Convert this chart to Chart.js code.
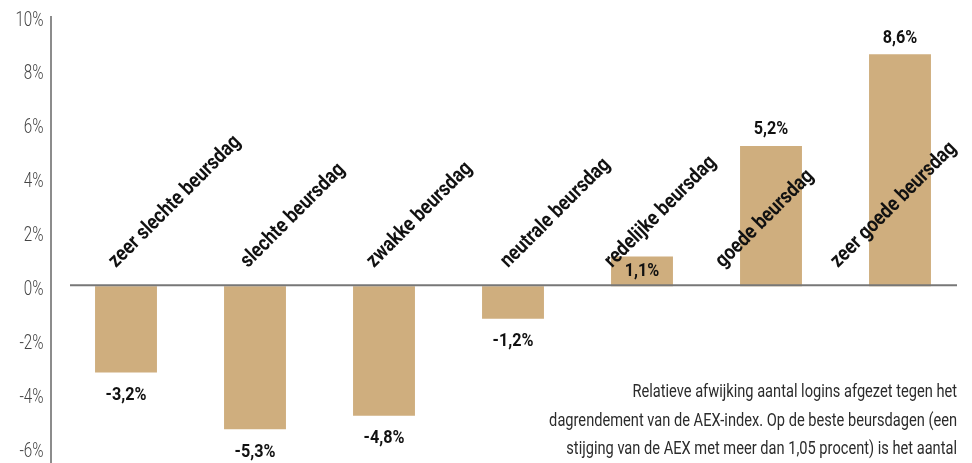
<!DOCTYPE html>
<html>
<head>
<meta charset="utf-8">
<script src="https://cdn.jsdelivr.net/npm/chart.js@4.4.1/dist/chart.umd.min.js"></script>
<style>
  html, body { margin: 0; padding: 0; background: #ffffff; }
  #wrap { position: relative; width: 972px; height: 463px; }
</style>
</head>
<body>
<div id="wrap"><canvas id="c" width="972" height="463"></canvas></div>
<script>
// ---- data ----
const categories = [
  'zeer slechte beursdag',
  'slechte beursdag',
  'zwakke beursdag',
  'neutrale beursdag',
  'redelijke beursdag',
  'goede beursdag',
  'zeer goede beursdag'
];
const values = [-3.2, -5.3, -4.8, -1.2, 1.1, 5.2, 8.6];
const yTicks = [-6, -4, -2, 0, 2, 4, 6, 8, 10];
const noteLines = [
  'Relatieve afwijking aantal logins afgezet tegen het',
  'dagrendement van de AEX-index. Op de beste beursdagen (een',
  'stijging van de AEX met meer dan 1,05 procent) is het aantal',
  'logins bijna 9 procent hoger dan op een gemiddelde handelsdag.'
];

// ---- style ----
const FONT = 'Roboto, "Liberation Sans", sans-serif';
const BAR = '#CFAE7E';
const catLabelShift = [-10, -7, -10, -5, -30, -48, -62];

function fmt(v) { return v.toFixed(1).replace('.', ',') + '%'; }

// draw text horizontally condensed around its anchor
function narrowText(ctx, text, x, y, sx) {
  ctx.save();
  ctx.translate(x, y);
  ctx.scale(sx, 1);
  ctx.fillText(text, 0, 0);
  ctx.restore();
}

const decor = {
  id: 'decor',
  afterLayout(chart) {
    const s = chart.scales.y;
    if (!s._wrapped) {
      const orig = s.drawLabels.bind(s);
      s.drawLabels = function (area) {
        const ctx = this.ctx;
        const ax = this.right - 18;
        ctx.save();
        ctx.translate(ax, 0);
        ctx.scale(0.76, 1);
        ctx.translate(-ax, 0);
        orig(area);
        ctx.restore();
      };
      s._wrapped = true;
    }
  },
  afterDatasetsDraw(chart) {
    const ctx = chart.ctx;
    const y = chart.scales.y;
    const y0 = y.getPixelForValue(0);
    ctx.save();
    // y axis line
    ctx.strokeStyle = '#666';
    ctx.lineWidth = 1.5;
    ctx.beginPath();
    ctx.moveTo(51, y.getPixelForValue(10) - 0.5);
    ctx.lineTo(51, 463);
    ctx.stroke();
    // zero line
    ctx.strokeStyle = '#777';
    ctx.lineWidth = 2;
    ctx.beginPath();
    ctx.moveTo(70, y0 - 1);
    ctx.lineTo(957, y0 - 1);
    ctx.stroke();

    const meta = chart.getDatasetMeta(0);
    // value labels
    ctx.fillStyle = '#111';
    ctx.font = 'bold 18px ' + FONT;
    ctx.textAlign = 'center';
    ctx.textBaseline = 'middle';
    meta.data.forEach((bar, i) => {
      const v = values[i];
      let ly;
      if (v < 0) ly = bar.y + 23;
      else if (Math.abs(bar.base - bar.y) < 40) ly = bar.y + 15;
      else ly = bar.y - 16;
      narrowText(ctx, fmt(v), bar.x, ly, 0.9);
    });
    // category labels
    ctx.font = 'bold 21px ' + FONT;
    ctx.textAlign = 'left';
    ctx.textBaseline = 'alphabetic';
    meta.data.forEach((bar, i) => {
      ctx.save();
      ctx.translate(bar.x + catLabelShift[i], y0 - 18);
      ctx.rotate(-Math.PI / 4);
      ctx.scale(0.85, 1);
      ctx.fillText(categories[i], 0, 0);
      ctx.restore();
    });
    // note text
    ctx.fillStyle = '#2b2b2b';
    ctx.font = '19px ' + FONT;
    ctx.textAlign = 'right';
    noteLines.forEach((t, i) => {
      narrowText(ctx, t, 957, 397 + i * 28.5, 0.77);
    });
    ctx.restore();
  }
};

new Chart(document.getElementById('c'), {
  type: 'bar',
  data: {
    labels: categories,
    datasets: [{
      data: values,
      backgroundColor: BAR,
      borderWidth: 0,
      barPercentage: 0.48,
      categoryPercentage: 1.0
    }]
  },
  options: {
    responsive: false,
    animation: false,
    devicePixelRatio: 1,
    layout: { padding: { top: 16.5, right: 7.5, bottom: 0, left: 0 } },
    plugins: { legend: { display: false }, tooltip: { enabled: false } },
    scales: {
      x: { display: false },
      y: {
        min: -6.55,
        max: 10,
        afterBuildTicks(scale) { scale.ticks = yTicks.map(v => ({ value: v })); },
        afterFit(scale) {
          scale.width = 61.5;
          scale.paddingTop = 0;
          scale.paddingBottom = 0;
        },
        grid: { display: false, drawTicks: false },
        border: { display: false },
        ticks: {
          padding: 18,
          labelOffset: 4,
          color: '#444',
          font: { family: FONT, size: 20, weight: '300' },
          callback: (v) => v + '%'
        }
      }
    }
  },
  plugins: [decor]
});
</script>
</body>
</html>
